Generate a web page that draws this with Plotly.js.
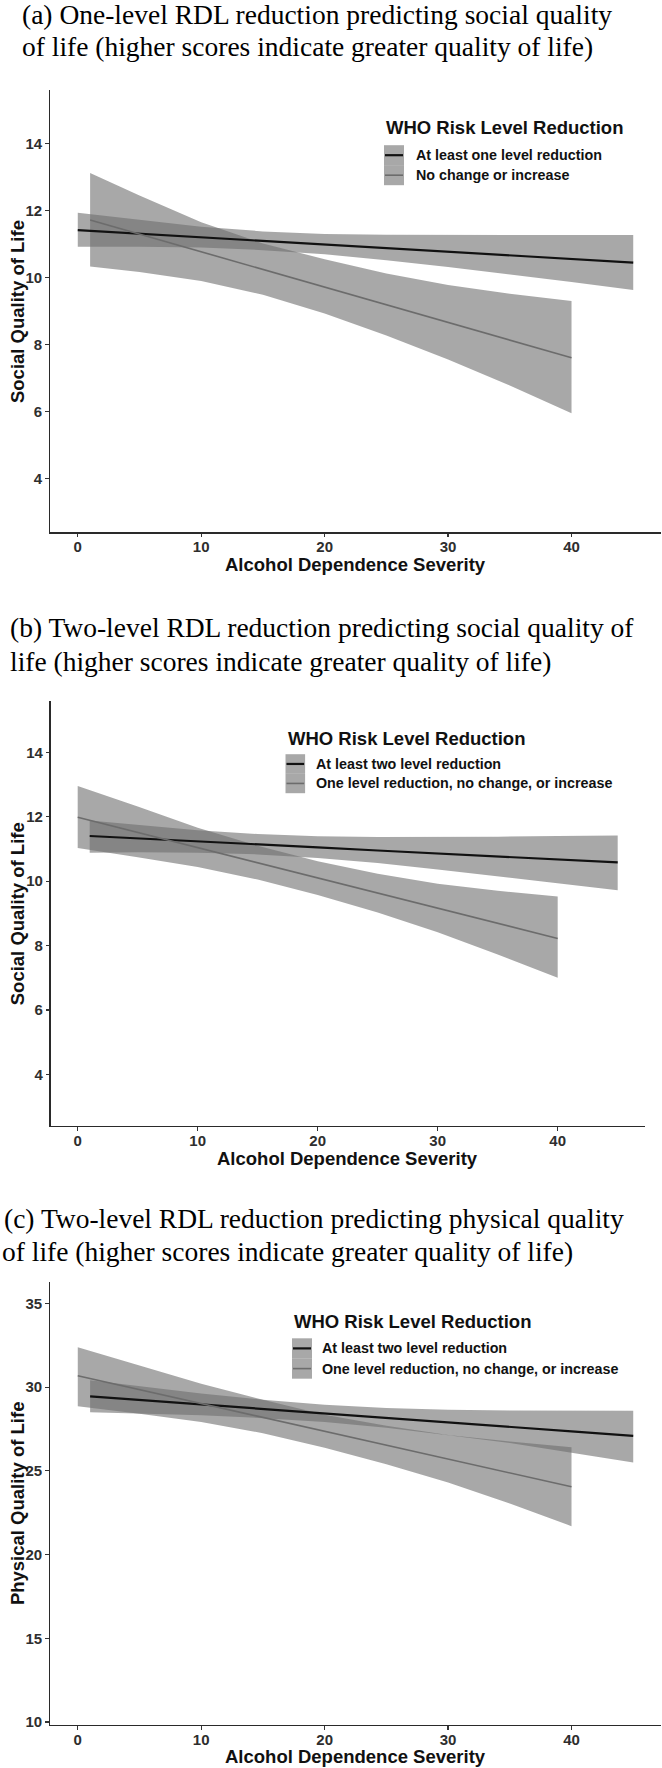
<!DOCTYPE html>
<html><head><meta charset="utf-8">
<script src="https://cdn.plot.ly/plotly-3.0.1.min.js"></script>
<style>html,body{margin:0;padding:0;background:#fff}#chart{width:662px;height:1768px}</style>
</head><body><div id="chart"></div>
<script>
// ---------------- DATA ----------------
const xTickVals = [0, 10, 20, 30, 40];
const yTickSocial = [4, 6, 8, 10, 12, 14];
const yTickPhysical = [10, 15, 20, 25, 30, 35];

const titlesA = ["(a) One-level RDL reduction predicting social quality", "of life (higher scores indicate greater quality of life)"];
const titlesB = ["(b) Two-level RDL reduction predicting social quality of", "life (higher scores indicate greater quality of life)"];
const titlesC = ["(c) Two-level RDL reduction predicting physical quality", "of life (higher scores indicate greater quality of life)"];
const xTitle = "Alcohol Dependence Severity";
const yTitleSocial = "Social Quality of Life";
const yTitlePhysical = "Physical Quality of Life";
const legendTitle = "WHO Risk Level Reduction";
const legendA = ["At least one level reduction", "No change or increase"];
const legendBC = ["At least two level reduction", "One level reduction, no change, or increase"];

// Panel (a)
const xA1 = [0, 5, 10, 15, 20, 25, 30, 35, 40, 45];
const fitA1 = [11.42, 11.31, 11.20, 11.10, 10.99, 10.88, 10.77, 10.67, 10.56, 10.45];
const upA1 = [11.94, 11.72, 11.52, 11.38, 11.30, 11.28, 11.27, 11.27, 11.27, 11.27];
const loA1 = [10.92, 10.92, 10.90, 10.82, 10.70, 10.52, 10.32, 10.10, 9.87, 9.63];
const xA2 = [1, 5, 10, 15, 20, 25, 30, 35, 40];
const fitA2 = [11.72, 11.30, 10.77, 10.25, 9.72, 9.19, 8.66, 8.14, 7.61];
const upA2 = [13.12, 12.45, 11.65, 11.02, 10.55, 10.12, 9.78, 9.52, 9.30];
const loA2 = [10.33, 10.17, 9.90, 9.49, 8.93, 8.27, 7.56, 6.78, 5.95];

// Panel (b)
const xB1 = [1, 5, 10, 15, 20, 25, 30, 35, 40, 45];
const fitB1 = [11.40, 11.33, 11.23, 11.14, 11.05, 10.95, 10.86, 10.77, 10.67, 10.58];
const upB1 = [11.88, 11.74, 11.58, 11.46, 11.39, 11.37, 11.37, 11.38, 11.40, 11.42];
const loB1 = [10.88, 10.90, 10.88, 10.83, 10.72, 10.56, 10.36, 10.16, 9.94, 9.72];
const xB2 = [0, 5, 10, 15, 20, 25, 30, 35, 40];
const fitB2 = [11.98, 11.51, 11.04, 10.57, 10.10, 9.63, 9.16, 8.69, 8.22];
const upB2 = [12.95, 12.32, 11.66, 11.10, 10.62, 10.23, 9.92, 9.70, 9.52];
const loB2 = [11.03, 10.74, 10.44, 10.05, 9.57, 9.03, 8.41, 7.72, 7.00];

// Panel (c)
const xC1 = [1, 5, 10, 15, 20, 25, 30, 35, 40, 45];
const fitC1 = [29.45, 29.24, 28.97, 28.70, 28.43, 28.16, 27.90, 27.63, 27.36, 27.09];
const upC1 = [30.41, 30.05, 29.62, 29.25, 28.95, 28.75, 28.65, 28.60, 28.59, 28.59];
const loC1 = [28.50, 28.43, 28.32, 28.15, 27.92, 27.58, 27.13, 26.66, 26.10, 25.50];
const xC2 = [0, 5, 10, 15, 20, 25, 30, 35, 40];
const fitC2 = [30.68, 29.85, 29.02, 28.19, 27.37, 26.54, 25.71, 24.88, 24.05];
const upC2 = [32.39, 31.30, 30.20, 29.25, 28.35, 27.70, 27.15, 26.75, 26.41];
const loC2 = [28.86, 28.42, 27.92, 27.25, 26.38, 25.40, 24.30, 23.05, 21.70];

// ---------------- LAYOUT / STYLE ----------------
const W = 662, H = 1768;
const fx = p => p / W, fy = p => 1 - p / H;
const SANS = "Liberation Sans, Arial, Helvetica, sans-serif";
const SERIF = "Liberation Serif, Times New Roman, serif";
const BAND = "rgba(110,110,110,0.6)";
const LINE_COL = ["#111111", "#6c6c6c"];
const LINE_W = [2.2, 1.6];
const TFS = 27.5;

const groups = [
  [{x: xA1, fit: fitA1, up: upA1, lo: loA1}, {x: xA2, fit: fitA2, up: upA2, lo: loA2}],
  [{x: xB1, fit: fitB1, up: upB1, lo: loB1}, {x: xB2, fit: fitB2, up: upB2, lo: loB2}],
  [{x: xC1, fit: fitC1, up: upC1, lo: loC1}, {x: xC2, fit: fitC2, up: upC2, lo: loC2}]
];
const panels = [
  {top: 90, bottom: 532.3, left: 50, right: 661, yr: [2.4, 15.6], yt: yTickSocial, titles: titlesA, tX: [20, 20], tBase: [23.5, 56],
   yTitle: yTitleSocial, leg: legendA, lg: {x: 384, titleY: 127.7, keyTop: 145.2, keyH: 20, keyW: 20, labelX: 413.5}},
  {top: 700.7, bottom: 1126, left: 50.7, right: 644.7, yr: [2.4, 15.6], yt: yTickSocial, titles: titlesB, tX: [7.5, 8], tBase: [637, 671],
   yTitle: yTitleSocial, leg: legendBC, lg: {x: 285.5, titleY: 738.1, keyTop: 754.2, keyH: 19.5, keyW: 19.6, labelX: 314}},
  {top: 1281.7, bottom: 1724.7, left: 50, right: 661, yr: [9.84, 36.3], yt: yTickPhysical, titles: titlesC, tX: [2, 0], tBase: [1228, 1261],
   yTitle: yTitlePhysical, leg: legendBC, lg: {x: 292, titleY: 1321.6, keyTop: 1338.3, keyH: 20.2, keyW: 20, labelX: 320.4}}
];

const traces = [], annotations = [], shapes = [];
const layout = {
  width: W, height: H, margin: {l: 0, r: 0, t: 0, b: 0},
  paper_bgcolor: "#ffffff", plot_bgcolor: "#ffffff", showlegend: false,
  font: {family: SANS, color: "#222"}
};

panels.forEach((g, i) => {
  const sfx = i === 0 ? "" : String(i + 1);
  const xa = "x" + sfx, ya = "y" + sfx;
  groups[i].forEach(s => {
    traces.push({type: "scatter", mode: "lines", x: s.x.concat(s.x.slice().reverse()),
      y: s.up.concat(s.lo.slice().reverse()), fill: "toself", fillcolor: BAND,
      line: {width: 0, color: "rgba(0,0,0,0)"}, hoverinfo: "skip", xaxis: xa, yaxis: ya});
  });
  groups[i].forEach((s, j) => {
    traces.push({type: "scatter", mode: "lines", x: s.x, y: s.fit,
      line: {color: LINE_COL[j], width: LINE_W[j]}, xaxis: xa, yaxis: ya});
  });
  const axCommon = {showline: true, linecolor: "#2a2a2a", linewidth: 1.3, showgrid: false, zeroline: false,
    ticks: "outside", ticklen: 3.5, tickwidth: 1.2, tickcolor: "#333",
    tickfont: {family: SANS, size: 15, color: "#2e2e2e", weight: "bold"}, fixedrange: true};
  layout["xaxis" + sfx] = Object.assign({}, axCommon, {domain: [fx(g.left), fx(g.right)], range: [-2.25, 47.25],
    tickvals: xTickVals, anchor: ya, ticklabelstandoff: -3});
  layout["yaxis" + sfx] = Object.assign({}, axCommon, {domain: [fy(g.bottom), fy(g.top)], range: g.yr,
    tickvals: g.yt, anchor: xa});

  // panel titles
  g.titles.forEach((t, k) => {
    annotations.push({text: t, xref: "paper", yref: "paper", x: fx(g.tX[k]), y: fy(g.tBase[k] - 0.34 * TFS),
      xanchor: "left", yanchor: "middle", showarrow: false, font: {family: SERIF, size: TFS, color: "#000"}});
  });
  // axis titles
  annotations.push({text: xTitle, xref: "paper", yref: "paper", x: fx((g.left + g.right) / 2),
    y: fy(g.bottom + 38.5 - 6.4), xanchor: "center", yanchor: "middle", showarrow: false,
    font: {family: SANS, size: 18.5, color: "#111", weight: "bold"}});
  annotations.push({text: g.yTitle, xref: "paper", yref: "paper", x: fx(16.9),
    y: fy((g.top + g.bottom) / 2), xanchor: "center", yanchor: "middle", showarrow: false, textangle: -90,
    font: {family: SANS, size: 18.5, color: "#111", weight: "bold"}});
  // legend
  const L = g.lg;
  annotations.push({text: legendTitle, xref: "paper", yref: "paper", x: fx(L.x), y: fy(L.titleY),
    xanchor: "left", yanchor: "middle", showarrow: false, font: {family: SANS, size: 18.5, color: "#111", weight: "bold"}});
  g.leg.forEach((lab, j) => {
    const t0 = L.keyTop + j * L.keyH, cy = t0 + L.keyH / 2;
    shapes.push({type: "rect", xref: "paper", yref: "paper", x0: fx(L.x), x1: fx(L.x + L.keyW), y0: fy(t0 + L.keyH), y1: fy(t0),
      fillcolor: BAND, line: {width: 0}});
    shapes.push({type: "line", xref: "paper", yref: "paper", x0: fx(L.x + 1), x1: fx(L.x + L.keyW - 1), y0: fy(cy), y1: fy(cy),
      line: {color: LINE_COL[j], width: LINE_W[j]}});
    annotations.push({text: lab, xref: "paper", yref: "paper", x: fx(L.labelX), y: fy(cy),
      xanchor: "left", yanchor: "middle", showarrow: false, font: {family: SANS, size: 14.3, color: "#111", weight: "bold"}});
  });
});
layout.annotations = annotations;
layout.shapes = shapes;
Plotly.newPlot("chart", traces, layout, {displayModeBar: false, staticPlot: true});
</script></body></html>
